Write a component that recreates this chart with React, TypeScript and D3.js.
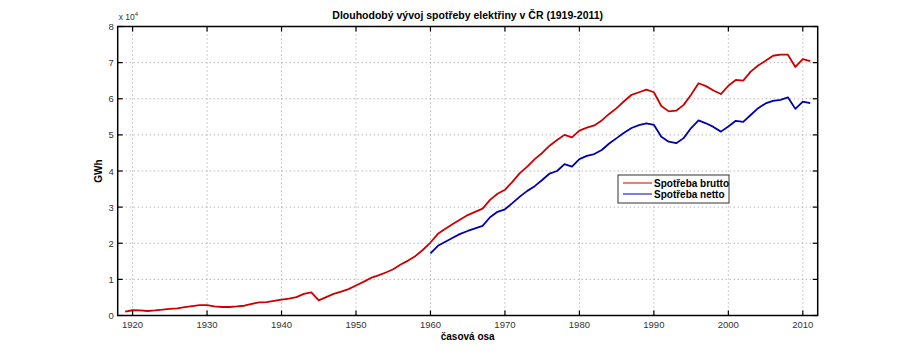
import React from "react";
import * as d3 from "d3";

const bruttoYears: number[] = d3.range(1919, 2012);
const bruttoValues: number[] = [
  1100, 1450, 1400, 1250, 1400, 1600, 1850, 2000, 2300, 2600,
  2850, 2850, 2550, 2350, 2350, 2500, 2700, 3200, 3650, 3700,
  4050, 4400, 4700, 5100, 6000, 6400, 4200, 5100, 6000, 6600,
  7300, 8300, 9300, 10400, 11100, 11900, 12800, 14100, 15200, 16500,
  18200, 20200, 22600, 24000, 25300, 26600, 27800, 28700, 29600, 32000,
  33700, 34800, 37000, 39400, 41200, 43300, 45000, 47000, 48600, 50000,
  49300, 51200, 52000, 52600, 54000, 55800, 57400, 59300, 61100, 61800,
  62500, 61800, 58000, 56500, 56700, 58300, 61100, 64300, 63500, 62300,
  61300, 63600, 65200, 65000, 67500, 69200, 70500, 71900, 72200, 72200,
  68800, 71000, 70400,
];
const nettoYears: number[] = d3.range(1960, 2012);
const nettoValues: number[] = [
  17200, 19300, 20400, 21500, 22600, 23400, 24100, 24800, 27200, 28700,
  29400, 31100, 32900, 34500, 35800, 37500, 39300, 40000, 41900, 41200,
  43300, 44200, 44700, 45800, 47600, 49100, 50600, 51900, 52700, 53200,
  52800, 49500, 48100, 47700, 49100, 51900, 54000, 53200, 52200, 50900,
  52300, 53900, 53600, 55500, 57400, 58700, 59400, 59700, 60400, 57200,
  59200, 58800,
];
const xTicks: number[] = [1920, 1930, 1940, 1950, 1960, 1970, 1980, 1990, 2000, 2010];
const yTicks: number[] = [0, 1, 2, 3, 4, 5, 6, 7, 8];
const seriesNames: string[] = ["Spotřeba brutto", "Spotřeba netto"];
const seriesColors: string[] = ["#cc0000", "#0000b0"];

const W = 904;
const H = 356;
const L = 117.7;
const R = 817.7;
const T = 26.5;
const B = 315.5;
const FONT = "'Liberation Sans', Arial, Helvetica, sans-serif";

export default function App() {
  const x = d3.scaleLinear().domain([1918, 2012]).range([L, R]);
  const y = d3.scaleLinear().domain([0, 8]).range([B, T]);
  const line = d3
    .line<[number, number]>()
    .x((d) => x(d[0]))
    .y((d) => y(d[1] / 10000));

  const brutto: [number, number][] = bruttoYears.map((yr, i) => [yr, bruttoValues[i]]);
  const netto: [number, number][] = nettoYears.map((yr, i) => [yr, nettoValues[i]]);

  const tickLen = 5;
  const legX = 618;
  const legY = 175;
  const legW = 111;
  const legH = 28;

  return (
    <svg
      width={W}
      height={H}
      style={{ position: "absolute", left: 0, top: 0, background: "#fff" }}
      fontFamily={FONT}
    >
      <rect x={0} y={0} width={W} height={H} fill="#fff" />
      {/* grid */}
      <g stroke="#9a9a9a" strokeWidth={1} strokeDasharray="1,3">
        {xTicks.map((t) => (
          <line key={"gx" + t} x1={x(t)} x2={x(t)} y1={T} y2={B} />
        ))}
        {yTicks.slice(1, -1).map((t) => (
          <line key={"gy" + t} x1={L} x2={R} y1={y(t)} y2={y(t)} />
        ))}
      </g>
      {/* series */}
      <path d={line(brutto) || ""} fill="none" stroke={seriesColors[0]} strokeWidth={1.8} strokeLinejoin="round" />
      <path d={line(netto) || ""} fill="none" stroke={seriesColors[1]} strokeWidth={1.8} strokeLinejoin="round" />
      {/* axes box */}
      <rect x={L} y={T} width={R - L} height={B - T} fill="none" stroke="#000" strokeWidth={1.5} />
      <g stroke="#000" strokeWidth={1.2}>
        {xTicks.map((t) => (
          <g key={"tx" + t}>
            <line x1={x(t)} x2={x(t)} y1={B} y2={B - tickLen} />
            <line x1={x(t)} x2={x(t)} y1={T} y2={T + tickLen} />
          </g>
        ))}
        {yTicks.map((t) => (
          <g key={"ty" + t}>
            <line x1={L} x2={L + tickLen} y1={y(t)} y2={y(t)} />
            <line x1={R} x2={R - tickLen} y1={y(t)} y2={y(t)} />
          </g>
        ))}
      </g>
      {/* tick labels */}
      <g fontSize={9.5} fill="#333">
        {xTicks.map((t) => (
          <text key={"lx" + t} x={x(t)} y={B + 12} textAnchor="middle">
            {t}
          </text>
        ))}
        {yTicks.map((t) => (
          <text key={"ly" + t} x={L - 4} y={y(t) + 3.5} textAnchor="end">
            {t}
          </text>
        ))}
      </g>
      <text x={L + 1} y={20} fontSize={8.5} fill="#333">
        x 10
        <tspan dy={-4} fontSize={6}>4</tspan>
      </text>
      {/* title and labels */}
      <text x={(L + R) / 2} y={19} textAnchor="middle" fontSize={10.5} fontWeight="bold" fill="#000">
        Dlouhodobý vývoj spotřeby elektřiny v ČR (1919-2011)
      </text>
      <text x={(L + R) / 2} y={340} textAnchor="middle" fontSize={10} fontWeight="bold" fill="#000">
        časová osa
      </text>
      <text
        transform={`translate(${102},${(T + B) / 2}) rotate(-90)`}
        textAnchor="middle"
        fontSize={10}
        fontWeight="bold"
        fill="#000"
      >
        GWh
      </text>
      {/* legend */}
      <rect x={legX} y={legY} width={legW} height={legH} fill="#fff" stroke="#333" strokeWidth={1} />
      {seriesNames.map((name, i) => (
        <g key={name}>
          <line
            x1={legX + 5}
            x2={legX + 34}
            y1={legY + 8 + i * 11}
            y2={legY + 8 + i * 11}
            stroke={seriesColors[i]}
            strokeWidth={1}
          />
          <text x={legX + 36} y={legY + 11.5 + i * 11} fontSize={10} fontWeight="bold" fill="#000">
            {name}
          </text>
        </g>
      ))}
    </svg>
  );
}
